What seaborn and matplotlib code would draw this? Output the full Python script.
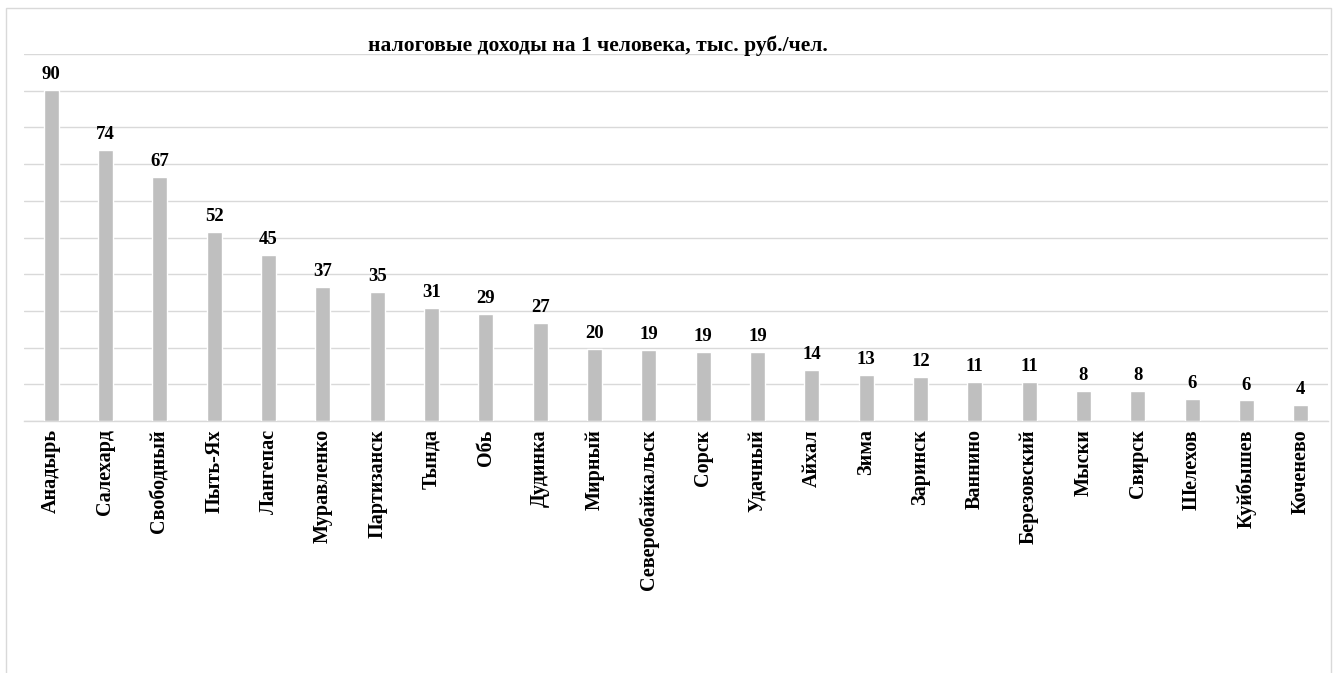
import matplotlib
matplotlib.use("Agg")
import matplotlib.pyplot as plt
import seaborn as sns
import pandas as pd
from matplotlib.patches import Rectangle

cities = ["Анадырь", "Салехард", "Свободный", "Пыть-Ях", "Лангепас", "Муравленко",
          "Партизанск", "Тында", "Обь", "Дудинка", "Мирный", "Северобайкальск",
          "Сорск", "Удачный", "Айхал", "Зима", "Заринск", "Ваннино", "Березовский",
          "Мыски", "Свирск", "Шелехов", "Куйбышев", "Коченево"]
values = [90.2, 73.8, 66.6, 51.5, 45.2, 36.6, 35.1, 30.8, 29.2, 26.7, 19.6, 19.3,
          18.8, 18.7, 13.9, 12.6, 11.9, 10.6, 10.6, 8.2, 8.2, 6.0, 5.6, 4.4]
title = "налоговые доходы на 1 человека, тыс. руб./чел."

df = pd.DataFrame({"city": cities, "value": values})

sns.set_theme(style="white")
plt.rcParams["font.family"] = ["Liberation Serif", "DejaVu Serif"]

W, H = 1343, 673
fig = plt.figure(figsize=(W / 100, H / 100), dpi=100)
ax = fig.add_axes([24 / W, (H - 421) / H, (1328 - 24) / W, (421 - 54) / H])

sns.barplot(data=df, x="city", y="value", color="#BFBFBF", width=0.27,
            saturation=1, ax=ax, zorder=3)

ax.set_ylim(0, 100)
ax.set_yticks(range(0, 101, 10))
ax.yaxis.grid(True, color="#D9D9D9", linewidth=1.0, zorder=0)
ax.set_yticklabels([])
ax.tick_params(axis="y", length=0)
ax.tick_params(axis="x", length=0, pad=6)
ax.set_xlim(-0.5, len(cities) - 0.5)
for s in ["left", "right", "top"]:
    ax.spines[s].set_visible(False)
ax.spines["bottom"].set_color("#D9D9D9")
ax.spines["bottom"].set_linewidth(1.0)
ax.set_xlabel("")
ax.set_ylabel("")
for lab in ax.get_xticklabels():
    lab.set_rotation(90)
    lab.set_fontweight("bold")
    lab.set_fontsize(14.5)
    lab.set_color("black")

for c in ax.containers:
    ax.bar_label(c, fmt="%.0f", padding=5, fontsize=13.5, fontweight="bold", color="black")

fig.text(598 / W, 1 - 46 / H, title, ha="center", va="center",
         fontsize=15.5, fontweight="bold", color="black")

fig.patches.append(Rectangle((6 / W, -0.01), (1331 - 6) / W, 1 - 8 / H + 0.01,
                             transform=fig.transFigure, fill=False,
                             edgecolor="#D9D9D9", linewidth=1.0))

fig.savefig("out.png", dpi=100, facecolor="white")
